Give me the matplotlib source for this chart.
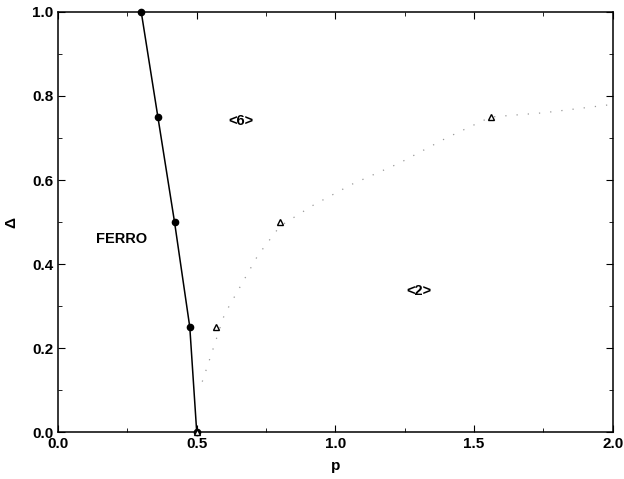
import matplotlib
matplotlib.use("Agg")
import matplotlib.pyplot as plt
from matplotlib.ticker import MultipleLocator

# --- Data ---
ferro_p = [0.30, 0.36, 0.42, 0.475, 0.50]
ferro_d = [1.00, 0.75, 0.50, 0.25, 0.00]

tri_p = [0.50, 0.57, 0.80, 1.56]
tri_d = [0.00, 0.25, 0.50, 0.75]

dot_p = [0.52, 0.60, 0.72, 0.80, 0.92, 1.06, 1.23, 1.40, 1.56, 1.75, 2.00]
dot_d = [0.12, 0.28, 0.42, 0.49, 0.54, 0.59, 0.64, 0.70, 0.75, 0.76, 0.78]

labels = ["<6>", "FERRO", "<2>"]
label_p = [0.66, 0.23, 1.30]
label_d = [0.74, 0.46, 0.335]

plt.rcParams["font.family"] = ["Liberation Sans", "DejaVu Sans"]

fig = plt.figure(figsize=(6.24, 4.79), dpi=100)
ax = fig.add_axes([0.093, 0.098, 0.889, 0.877])

ax.plot(dot_p, dot_d, color="0.6", linestyle=(0, (1, 8)), linewidth=0.9)
ax.plot(ferro_p, ferro_d, color="black", linewidth=1.1, marker="o",
        markersize=4.5, clip_on=False, zorder=3)
ax.plot(tri_p, tri_d, linestyle="none", marker="^", markersize=5,
        markerfacecolor="white", markeredgecolor="black", markeredgewidth=1.0,
        clip_on=False, zorder=4)

for txt, px, py in zip(labels, label_p, label_d):
    ax.text(px, py, txt, ha="center", va="center", fontsize=10.5, fontweight="bold")

ax.set_xlim(0, 2)
ax.set_ylim(0, 1)
ax.xaxis.set_major_locator(MultipleLocator(0.5))
ax.xaxis.set_minor_locator(MultipleLocator(0.25))
ax.yaxis.set_major_locator(MultipleLocator(0.2))
ax.yaxis.set_minor_locator(MultipleLocator(0.1))
ax.xaxis.set_major_formatter(plt.FormatStrFormatter("%.1f"))
ax.yaxis.set_major_formatter(plt.FormatStrFormatter("%.1f"))
ax.tick_params(which="both", direction="in", top=True, right=True)
ax.tick_params(which="major", length=5, labelsize=11)
ax.tick_params(which="minor", length=3)
for lab in ax.get_xticklabels() + ax.get_yticklabels():
    lab.set_fontweight("bold")
for sp in ax.spines.values():
    sp.set_linewidth(1.1)

ax.set_xlabel("p", fontsize=11, fontweight="bold", labelpad=6)
ax.set_ylabel("Δ", fontsize=11, fontweight="bold", labelpad=10)

fig.savefig("out.png", dpi=100)
